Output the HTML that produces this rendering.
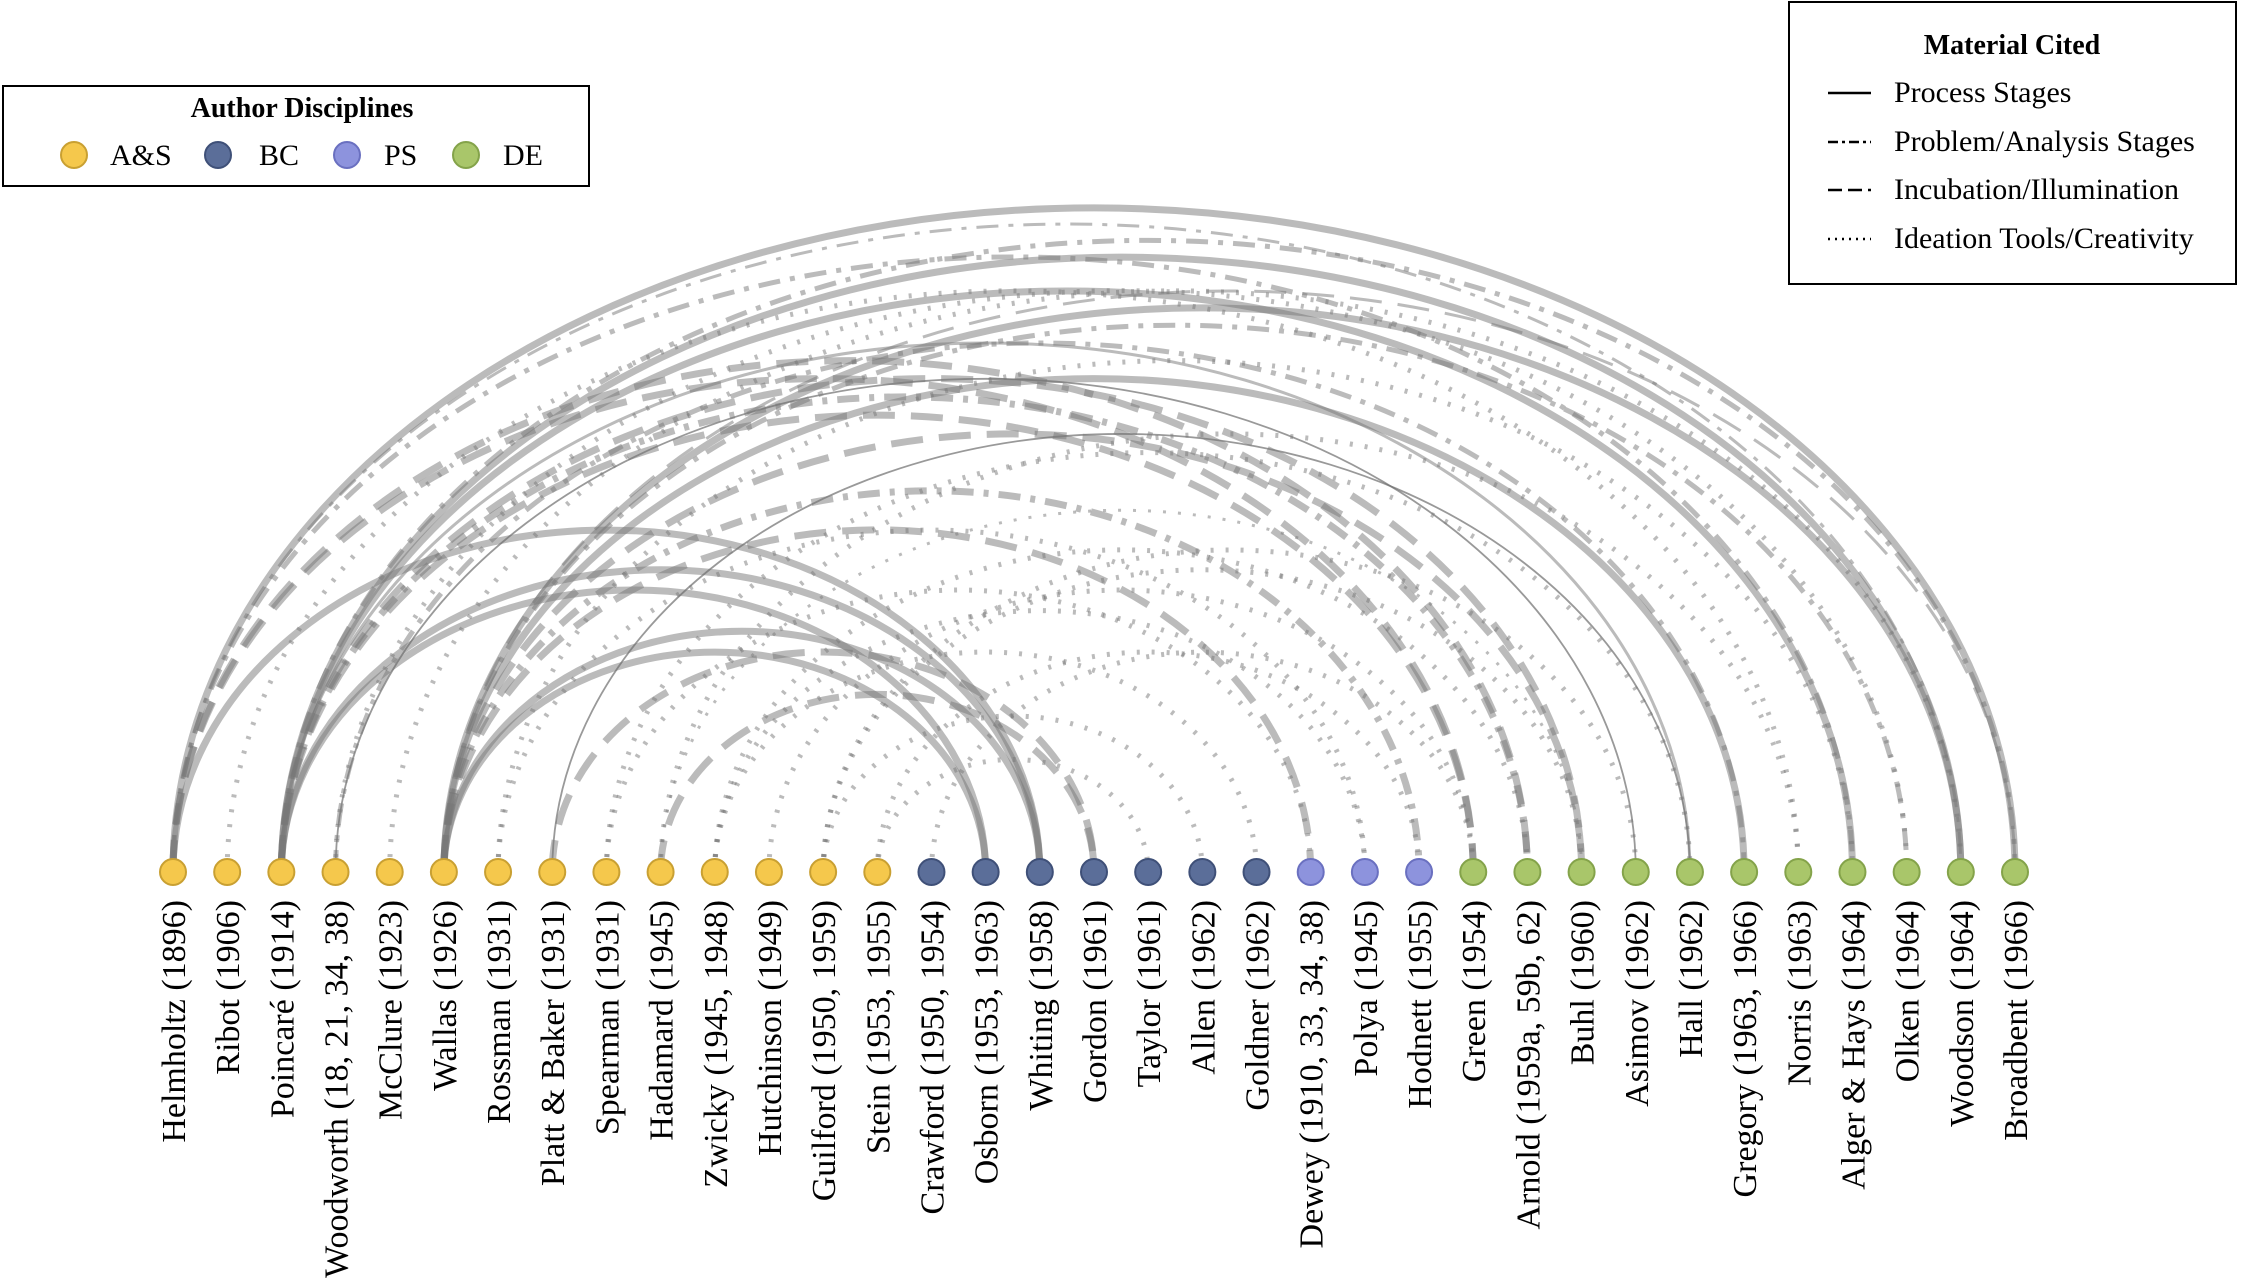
<!DOCTYPE html>
<html><head><meta charset="utf-8">
<style>
html,body{margin:0;padding:0;background:#fff;}
svg{display:block;font-family:"Liberation Serif",serif;}
</style></head>
<body>
<svg id="chart" width="2246" height="1280" viewBox="0 0 2246 1280" xmlns="http://www.w3.org/2000/svg">
  <g id="arcs"></g>
  <g id="nodes"></g>
  <g id="labels"></g>

  <g>
    <rect x="3" y="86" width="586" height="100" fill="#fff" stroke="#000" stroke-width="2"/>
    <text x="302" y="117" text-anchor="middle" font-size="28" font-weight="bold">Author Disciplines</text>
    <g><circle cx="74" cy="155" r="13" fill="#f5c84c" stroke="#c9a032" stroke-width="2"/><text x="110" y="165" font-size="30">A&amp;S</text></g>
    <g><circle cx="218" cy="155" r="13" fill="#5b6e99" stroke="#3f5078" stroke-width="2"/><text x="259" y="165" font-size="30">BC</text></g>
    <g><circle cx="347" cy="155" r="13" fill="#8d93dd" stroke="#6a70c0" stroke-width="2"/><text x="384" y="165" font-size="30">PS</text></g>
    <g><circle cx="466" cy="155" r="13" fill="#a9c66a" stroke="#84a34a" stroke-width="2"/><text x="503" y="165" font-size="30">DE</text></g>
  </g>

  <g>
    <rect x="1789" y="2" width="447" height="282" fill="#fff" stroke="#000" stroke-width="2"/>
    <text x="2012" y="54" text-anchor="middle" font-size="28" font-weight="bold">Material Cited</text>
    <g><line x1="1828" y1="93" x2="1871" y2="93" stroke="#000" stroke-width="2.5"/><text x="1894" y="102" font-size="30">Process Stages</text></g>
    <g><line x1="1828" y1="142" x2="1871" y2="142" stroke="#000" stroke-width="2.5" stroke-dasharray="10,4,3,4"/><text x="1894" y="151" font-size="30">Problem/Analysis Stages</text></g>
    <g><line x1="1828" y1="190" x2="1871" y2="190" stroke="#000" stroke-width="2.5" stroke-dasharray="14,6"/><text x="1894" y="199" font-size="30">Incubation/Illumination</text></g>
    <g><line x1="1828" y1="239" x2="1871" y2="239" stroke="#000" stroke-width="2.5" stroke-dasharray="2,5"/><text x="1894" y="248" font-size="30">Ideation Tools/Creativity</text></g>
  </g>
</svg>
<script>
const authors = ["Helmholtz (1896)","Ribot (1906)","Poincaré (1914)","Woodworth (18, 21, 34, 38)","McClure (1923)","Wallas (1926)","Rossman (1931)","Platt & Baker (1931)","Spearman (1931)","Hadamard (1945)","Zwicky (1945, 1948)","Hutchinson (1949)","Guilford (1950, 1959)","Stein (1953, 1955)","Crawford (1950, 1954)","Osborn (1953, 1963)","Whiting (1958)","Gordon (1961)","Taylor (1961)","Allen (1962)","Goldner (1962)","Dewey (1910, 33, 34, 38)","Polya (1945)","Hodnett (1955)","Green (1954)","Arnold (1959a, 59b, 62)","Buhl (1960)","Asimov (1962)","Hall (1962)","Gregory (1963, 1966)","Norris (1963)","Alger & Hays (1964)","Olken (1964)","Woodson (1964)","Broadbent (1966)"];
const disciplines = ["AS","AS","AS","AS","AS","AS","AS","AS","AS","AS","AS","AS","AS","AS","BC","BC","BC","BC","BC","BC","BC","PS","PS","PS","DE","DE","DE","DE","DE","DE","DE","DE","DE","DE","DE"];
// arcs: source index, target index, style, weight
const arcFrom   = [0,2,5,5,2,0,2,2,5,5,3,7,0,2,5,2,0,5,7,9,2,5,0,3,2,5,1,6,8,10,12,13,10,12,9,11,8,6,3,4,12,13,10,14,0,5,2,9];
const arcTo     = [34,33,29,33,31,16,15,16,15,16,27,28,24,26,26,24,25,21,17,17,25,23,31,29,34,32,30,22,21,20,19,18,25,27,30,24,28,31,32,33,26,23,22,24,33,34,28,26];
const arcStyle  = ["s","s","s","s","s","s","s","s","s","s","t","t","d","d","d","d","d","d","d","d","x","x","x","x","x","x","o","o","o","o","o","o","o","o","o","o","o","o","o","o","o","o","o","o","x","d","s","o"];
const arcWeight = [3,3,3,3,3,3,3,3,3,3,1,1,3,3,3,3,3,3,3,3,3,3,2,2,2,2,2,2,2,2,2,2,2,2,2,2,2,2,2,2,2,2,2,2,1,1,1,1];
const colors = {AS:["#f5c84c","#c9a032"],BC:["#5b6e99","#3f5078"],PS:["#8d93dd","#6a70c0"],DE:["#a9c66a","#84a34a"]};

const X0=173, X1=2015, BASE=872;
const xScale = i => X0 + (X1-X0)*i/(authors.length-1);
const hScale = half => half*(0.85-0.00014*half);
const NS="http://www.w3.org/2000/svg";
const gA=document.getElementById('arcs'), gN=document.getElementById('nodes'), gL=document.getElementById('labels');

for(let k=0;k<arcFrom.length;k++){
  const a=xScale(arcFrom[k]), b=xScale(arcTo[k]);
  const half=(b-a)/2, h=hScale(half);
  const p=document.createElementNS(NS,'path');
  p.setAttribute('d',`M${a},${BASE} A${half},${h} 0 0 1 ${b},${BASE}`);
  p.setAttribute('fill','none');
  const st=arcStyle[k], w=arcWeight[k];
  let sw = st==='t'?1.8:(w===3?7:(w===2?5:3));
  p.setAttribute('stroke', st==='t'?'rgba(110,110,110,0.7)':'rgba(120,120,120,0.5)');
  p.setAttribute('stroke-width', sw);
  if(st==='d') p.setAttribute('stroke-dasharray','32,16');
  if(st==='x') p.setAttribute('stroke-dasharray','22,10,5,10');
  if(st==='o') p.setAttribute('stroke-dasharray','3,12');
  
  
  gA.appendChild(p);
}
authors.forEach((name,i)=>{
  const x=xScale(i);
  const c=document.createElementNS(NS,'circle');
  c.setAttribute('cx',x); c.setAttribute('cy',BASE); c.setAttribute('r',13);
  c.setAttribute('fill',colors[disciplines[i]][0]);
  c.setAttribute('stroke',colors[disciplines[i]][1]);
  c.setAttribute('stroke-width',2);
  
  
  gN.appendChild(c);
  const t=document.createElementNS(NS,'text');
  t.setAttribute('transform',`translate(${x+12},${BASE+28}) rotate(-90)`);
  t.setAttribute('text-anchor','end');
  t.setAttribute('font-size','34');
  t.textContent=name;
  
  
  gL.appendChild(t);
});
</script>
</body></html>
